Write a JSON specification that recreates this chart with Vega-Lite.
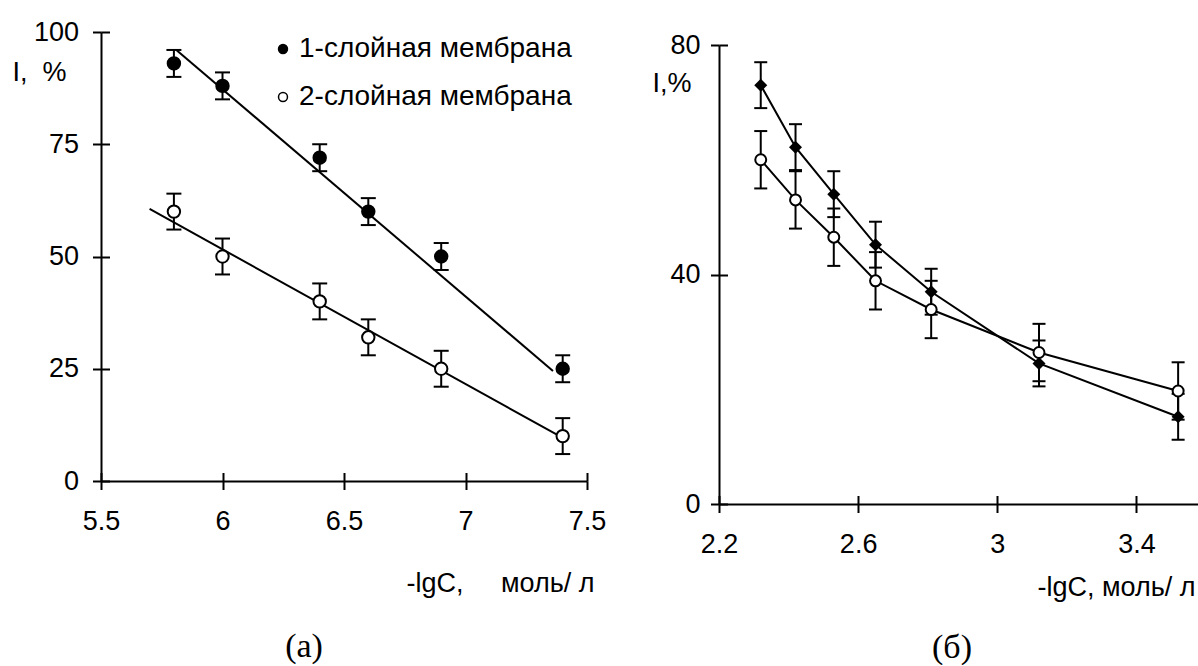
{
  "$schema": "https://vega.github.io/schema/vega-lite/v6.json",
  "padding": {"left": 12, "top": 18, "right": 0, "bottom": 0},
  "background": "white",
  "bounds": "flush",
  "spacing": 132,
  "config": {
    "view": {"stroke": null},
    "font": "Liberation Sans",
    "axis": {
      "grid": false, "domainColor": "black", "domainWidth": 2, "tickColor": "black", "tickWidth": 2, "tickSize": 8.5,
      "labelColor": "black", "labelFontSize": 27, "labelFont": "Liberation Sans", "labelFlush": false, "labelOverlap": false,
      "titleFont": "Liberation Sans", "titleFontSize": 27, "titleFontWeight": "normal", "titleColor": "black", "titleAngle": 0
    }
  },
  "datasets": {
    "pointsA": [
      {"series": "1-слойная мембрана", "x": 5.8, "y": 93, "lo": 90, "hi": 96},
      {"series": "1-слойная мембрана", "x": 6.0, "y": 88, "lo": 85, "hi": 91},
      {"series": "1-слойная мембрана", "x": 6.4, "y": 72, "lo": 69, "hi": 75},
      {"series": "1-слойная мембрана", "x": 6.6, "y": 60, "lo": 57, "hi": 63},
      {"series": "1-слойная мембрана", "x": 6.9, "y": 50, "lo": 47, "hi": 53},
      {"series": "1-слойная мембрана", "x": 7.4, "y": 25, "lo": 22, "hi": 28},
      {"series": "2-слойная мембрана", "x": 5.8, "y": 60, "lo": 56, "hi": 64},
      {"series": "2-слойная мембрана", "x": 6.0, "y": 50, "lo": 46, "hi": 54},
      {"series": "2-слойная мембрана", "x": 6.4, "y": 40, "lo": 36, "hi": 44},
      {"series": "2-слойная мембрана", "x": 6.6, "y": 32, "lo": 28, "hi": 36},
      {"series": "2-слойная мембрана", "x": 6.9, "y": 25, "lo": 21, "hi": 29},
      {"series": "2-слойная мембрана", "x": 7.4, "y": 10, "lo": 6, "hi": 14}
    ],
    "fitA": [
      {"series": "1", "x": 5.81, "y": 96},
      {"series": "1", "x": 7.36, "y": 24.5},
      {"series": "2", "x": 5.70, "y": 60.6},
      {"series": "2", "x": 7.38, "y": 10.2}
    ],
    "pointsB": [
      {"s": "1", "x": 2.32, "y": 73, "lo": 69, "hi": 77},
      {"s": "1", "x": 2.42, "y": 62.2, "lo": 58.2, "hi": 66.2},
      {"s": "1", "x": 2.53, "y": 54, "lo": 50, "hi": 58},
      {"s": "1", "x": 2.65, "y": 45.2, "lo": 41.2, "hi": 49.2},
      {"s": "1", "x": 2.81, "y": 37, "lo": 33, "hi": 41},
      {"s": "1", "x": 3.12, "y": 24.5, "lo": 20.5, "hi": 28.5},
      {"s": "1", "x": 3.52, "y": 15.2, "lo": 11.2, "hi": 19.2},
      {"s": "2", "x": 2.32, "y": 60, "lo": 55, "hi": 65},
      {"s": "2", "x": 2.42, "y": 53, "lo": 48, "hi": 58},
      {"s": "2", "x": 2.53, "y": 46.5, "lo": 41.5, "hi": 51.5},
      {"s": "2", "x": 2.65, "y": 38.9, "lo": 33.9, "hi": 43.9},
      {"s": "2", "x": 2.81, "y": 33.9, "lo": 28.9, "hi": 38.9},
      {"s": "2", "x": 3.12, "y": 26.4, "lo": 21.4, "hi": 31.4},
      {"s": "2", "x": 3.52, "y": 19.7, "lo": 14.7, "hi": 24.7}
    ]
  },
  "hconcat": [
    {
      "width": 486,
      "height": 449,
      "title": {"text": "(а)", "orient": "bottom", "frame": "group", "anchor": "middle", "dx": -40, "offset": 34, "font": "Liberation Serif", "fontSize": 34, "fontWeight": "normal", "color": "black"},
      "resolve": {"axis": {"x": "independent", "y": "independent"}},
      "layer": [
        {
          "data": {"name": "fitA"},
          "mark": {"type": "line", "color": "black", "strokeWidth": 2},
          "encoding": {
            "x": {"field": "x", "type": "quantitative", "scale": {"domain": [5.5, 7.5], "nice": false, "zero": false},
              "axis": {"orient": "bottom", "values": [5.5, 6, 6.5, 7, 7.5], "tickSize": -8.5, "labels": false, "domain": false, "title": null}},
            "y": {"field": "y", "type": "quantitative", "scale": {"domain": [0, 100], "nice": false},
              "axis": {"orient": "left", "values": [0, 25, 50, 75, 100], "tickSize": -8.5, "labels": false, "domain": false, "title": null}},
            "detail": {"field": "series"}
          }
        },
        {
          "data": {"name": "pointsA"},
          "mark": {"type": "errorbar", "ticks": {"size": 15, "thickness": 2, "color": "black", "opacity": 1}, "rule": {"strokeWidth": 2, "color": "black", "opacity": 1}},
          "encoding": {
            "x": {"field": "x", "type": "quantitative", "axis": null},
            "y": {"field": "lo", "type": "quantitative", "axis": null},
            "y2": {"field": "hi"}
          }
        },
        {
          "data": {"name": "pointsA"},
          "mark": {"type": "point", "shape": "circle", "filled": true, "size": 154, "stroke": "black", "strokeWidth": 2, "opacity": 1},
          "encoding": {
            "x": {"field": "x", "type": "quantitative",
              "axis": {"orient": "bottom", "values": [5.5, 6, 6.5, 7, 7.5], "format": "~g", "labelPadding": 18.5,
                "title": "-lgC,\u00a0\u00a0\u00a0\u00a0\u00a0моль/ л", "titleX": 493, "titleY": 102, "titleAlign": "right", "titleBaseline": "middle"}},
            "y": {"field": "y", "type": "quantitative",
              "axis": {"orient": "left", "values": [0, 25, 50, 75, 100], "labelPadding": 14,
                "title": "I,\u00a0\u00a0%", "titleX": -89, "titleY": 40, "titleAlign": "left", "titleBaseline": "middle"}},
            "fill": {"field": "series", "type": "nominal",
              "scale": {"domain": ["1-слойная мембрана", "2-слойная мембрана"], "range": ["black", "white"]},
              "legend": {"orient": "none", "legendX": 168, "legendY": 3, "title": null, "padding": 0,
                "labelFontSize": 28, "labelFont": "Liberation Sans", "labelColor": "black", "labelLimit": 500,
                "symbolType": "circle", "symbolSize": 80, "symbolStrokeColor": "black", "symbolStrokeWidth": 1.5,
                "labelOffset": 2, "rowPadding": 20}}
          }
        }
      ]
    },
    {
      "width": 480,
      "height": 472,
      "title": {"text": "(б)", "orient": "bottom", "frame": "group", "anchor": "middle", "dx": -7, "offset": 31, "font": "Liberation Serif", "fontSize": 34, "fontWeight": "normal", "color": "black"},
      "data": {"name": "pointsB"},
      "resolve": {"axis": {"x": "independent", "y": "independent"}},
      "layer": [
        {
          "mark": {"type": "line", "color": "black", "strokeWidth": 2},
          "encoding": {
            "x": {"field": "x", "type": "quantitative", "scale": {"domain": [2.2, 3.58], "nice": false, "zero": false},
              "axis": {"orient": "bottom", "values": [2.2, 2.6, 3, 3.4], "tickSize": -8.5, "labels": false, "domain": false, "title": null}},
            "y": {"field": "y", "type": "quantitative", "scale": {"domain": [0, 80], "nice": false, "range": [472, 13]},
              "axis": {"orient": "left", "values": [0, 40, 80], "tickSize": -8.5, "labels": false, "domain": false, "title": null}},
            "detail": {"field": "s"},
            "order": {"field": "x", "type": "quantitative"}
          }
        },
        {
          "mark": {"type": "errorbar", "ticks": {"size": 13, "thickness": 2, "color": "black", "opacity": 1}, "rule": {"strokeWidth": 2, "color": "black", "opacity": 1}},
          "encoding": {
            "x": {"field": "x", "type": "quantitative", "axis": null},
            "y": {"field": "lo", "type": "quantitative", "axis": null},
            "y2": {"field": "hi"}
          }
        },
        {
          "transform": [{"filter": "datum.s == '1'"}],
          "mark": {"type": "point", "shape": "diamond", "filled": true, "size": 169, "color": "black", "opacity": 1},
          "encoding": {
            "x": {"field": "x", "type": "quantitative",
              "axis": {"orient": "bottom", "values": [2.2, 2.6, 3, 3.4], "format": "~g", "labelPadding": 18.5,
                "title": "-lgC, моль/ л", "titleX": 318, "titleY": 83, "titleAlign": "left", "titleBaseline": "middle"}},
            "y": {"field": "y", "type": "quantitative",
              "axis": {"orient": "left", "values": [0, 40, 80], "labelPadding": 10.5,
                "title": "I,%", "titleX": -67, "titleY": 51, "titleAlign": "left", "titleBaseline": "middle"}}
          }
        },
        {
          "transform": [{"filter": "datum.s == '2'"}],
          "mark": {"type": "point", "shape": "circle", "filled": true, "size": 120, "fill": "white", "stroke": "black", "strokeWidth": 2, "opacity": 1},
          "encoding": {
            "x": {"field": "x", "type": "quantitative", "axis": null},
            "y": {"field": "y", "type": "quantitative", "axis": null}
          }
        }
      ]
    }
  ]
}
